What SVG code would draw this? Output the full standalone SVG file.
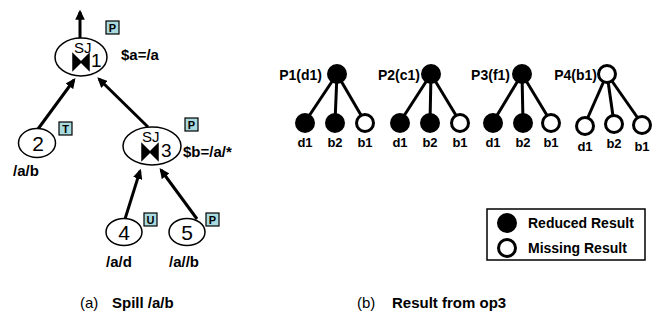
<svg xmlns="http://www.w3.org/2000/svg" width="654" height="322" viewBox="0 0 654 322">
  <style>
    .node { fill: #ffffff; stroke: #000000; stroke-width: 1.5; }
    .edge { fill: none; stroke: #000000; stroke-width: 3; }
    .tag { fill: #a9dadd; stroke: #000000; stroke-width: 1.2; }
    .tagtxt { font-family: "Liberation Sans", Arial, sans-serif; font-size: 11px; font-weight: bold; text-anchor: middle; }
    .num { font-family: "Liberation Sans", Arial, sans-serif; font-size: 21px; text-anchor: middle; }
    .sj { font-family: "Liberation Sans", Arial, sans-serif; font-size: 15px; }
    .lbl { font-family: "Liberation Sans", Arial, sans-serif; font-size: 15px; font-weight: bold; }
    .plbl { font-family: "Liberation Sans", Arial, sans-serif; font-size: 14px; font-weight: bold; text-anchor: end; }
    .leaf { font-family: "Liberation Sans", Arial, sans-serif; font-size: 13px; font-weight: bold; text-anchor: middle; }
    .cap { font-family: "Liberation Sans", Arial, sans-serif; font-size: 15px; }
    .capb { font-family: "Liberation Sans", Arial, sans-serif; font-size: 15px; font-weight: bold; }
    .full { fill: #000000; }
    .empty { fill: #ffffff; stroke: #000000; stroke-width: 3; }
    .branch { stroke: #000000; stroke-width: 3; }
  </style>
  <defs>
    <marker id="arrow" markerWidth="3.4" markerHeight="3.2" refX="2.6" refY="1.6" orient="auto" markerUnits="strokeWidth">
      <path d="M0,0 L3.4,1.6 L0,3.2 Z" fill="#000000"/>
    </marker>
    <!-- structural-join bowtie -->
    <path id="bowtie" d="M-8,-8 L-8,8 L0,0 Z M8,-8 L8,8 L0,0 Z" fill="#000000" stroke="#000000" stroke-width="1.5" stroke-linejoin="miter"/>
  </defs>

  <!-- (a) plan tree -->
  <g id="connectors">
    <line class="edge" x1="80" y1="38" x2="80" y2="12" marker-end="url(#arrow)"/>
    <line class="edge" x1="38" y1="129" x2="74" y2="80" marker-end="url(#arrow)"/>
    <line class="edge" x1="148" y1="127" x2="99" y2="79" marker-end="url(#arrow)"/>
    <line class="edge" x1="125" y1="219" x2="140" y2="171" marker-end="url(#arrow)"/>
    <line class="edge" x1="197" y1="219" x2="161" y2="170" marker-end="url(#arrow)"/>
  </g>

  <g id="op1">
    <ellipse class="node" cx="81" cy="57" rx="26" ry="19"/>
    <text class="sj" x="74" y="53">SJ</text>
    <use href="#bowtie" x="81" y="62"/>
    <text class="sj" x="91" y="67" style="font-size:19px">1</text>
    <rect class="tag" x="106" y="21" width="13" height="13"/>
    <text class="tagtxt" x="112.5" y="31.5">P</text>
    <text class="lbl" x="121" y="60">$a=/a</text>
  </g>

  <g id="op2">
    <ellipse class="node" cx="37" cy="143" rx="18.5" ry="14.5"/>
    <text class="num" x="38" y="151">2</text>
    <rect class="tag" x="59" y="122" width="13" height="13"/>
    <text class="tagtxt" x="65.5" y="132.5">T</text>
    <text class="lbl" x="13" y="176">/a/b</text>
  </g>

  <g id="op3">
    <ellipse class="node" cx="152" cy="146" rx="29" ry="19"/>
    <text class="sj" x="142" y="142">SJ</text>
    <use href="#bowtie" x="150" y="152"/>
    <text class="sj" x="161" y="157" style="font-size:19px">3</text>
    <rect class="tag" x="185" y="118" width="13" height="13"/>
    <text class="tagtxt" x="191.5" y="128.5">P</text>
    <text class="lbl" x="183" y="157">$b=/a/*</text>
  </g>

  <g id="op4">
    <ellipse class="node" cx="124" cy="232" rx="18" ry="13.5"/>
    <text class="num" x="124" y="240">4</text>
    <rect class="tag" x="144" y="213" width="13" height="13"/>
    <text class="tagtxt" x="150.5" y="223.5">U</text>
    <text class="lbl" x="106" y="267">/a/d</text>
  </g>

  <g id="op5">
    <ellipse class="node" cx="187" cy="232" rx="18" ry="13.5"/>
    <text class="num" x="187" y="240">5</text>
    <rect class="tag" x="206" y="213" width="13" height="13"/>
    <text class="tagtxt" x="212.5" y="223.5">P</text>
    <text class="lbl" x="169" y="267">/a//b</text>
  </g>

  <!-- (b) results per partition -->
  <g id="p1">
    <line class="branch" x1="337" y1="74" x2="305" y2="122"/>
    <line class="branch" x1="337" y1="74" x2="335" y2="122"/>
    <line class="branch" x1="337" y1="74" x2="365" y2="122"/>
    <circle class="full" cx="337" cy="74" r="10"/>
    <text class="plbl" x="322" y="80">P1(d1)</text>
    <circle class="full" cx="305" cy="123" r="10"/>
    <circle class="full" cx="335" cy="123" r="10"/>
    <circle class="empty" cx="365" cy="123" r="8.5"/>
    <text class="leaf" x="305" y="147">d1</text>
    <text class="leaf" x="335" y="147">b2</text>
    <text class="leaf" x="365" y="147">b1</text>
  </g>

  <g id="p2">
    <line class="branch" x1="431" y1="74" x2="400" y2="122"/>
    <line class="branch" x1="431" y1="74" x2="430" y2="122"/>
    <line class="branch" x1="431" y1="74" x2="460" y2="122"/>
    <circle class="full" cx="431" cy="74" r="10"/>
    <text class="plbl" x="420" y="80">P2(c1)</text>
    <circle class="full" cx="400" cy="123" r="10"/>
    <circle class="full" cx="430" cy="123" r="10"/>
    <circle class="empty" cx="460" cy="123" r="8.5"/>
    <text class="leaf" x="400" y="147">d1</text>
    <text class="leaf" x="430" y="147">b2</text>
    <text class="leaf" x="460" y="147">b1</text>
  </g>

  <g id="p3">
    <line class="branch" x1="522" y1="74" x2="493" y2="122"/>
    <line class="branch" x1="522" y1="74" x2="523" y2="122"/>
    <line class="branch" x1="522" y1="74" x2="551" y2="122"/>
    <circle class="full" cx="522" cy="74" r="10"/>
    <text class="plbl" x="510" y="80">P3(f1)</text>
    <circle class="full" cx="493" cy="123" r="10"/>
    <circle class="full" cx="523" cy="123" r="10"/>
    <circle class="empty" cx="551" cy="123" r="8.5"/>
    <text class="leaf" x="493" y="147">d1</text>
    <text class="leaf" x="523" y="147">b2</text>
    <text class="leaf" x="551" y="147">b1</text>
  </g>

  <g id="p4">
    <line class="branch" x1="607" y1="74" x2="585" y2="124"/>
    <line class="branch" x1="607" y1="74" x2="614" y2="123"/>
    <line class="branch" x1="607" y1="74" x2="642" y2="124"/>
    <circle class="empty" cx="607" cy="74" r="8.5"/>
    <text class="plbl" x="597" y="80">P4(b1)</text>
    <circle class="empty" cx="585" cy="126" r="8.5"/>
    <circle class="empty" cx="614" cy="124" r="8.5"/>
    <circle class="empty" cx="642" cy="125" r="8.5"/>
    <text class="leaf" x="585" y="151">d1</text>
    <text class="leaf" x="614" y="148">b2</text>
    <text class="leaf" x="642" y="151">b1</text>
  </g>

  <g id="legend">
    <rect x="487" y="209" width="158" height="51" fill="#ffffff" stroke="#000000" stroke-width="1.5"/>
    <circle class="full" cx="507" cy="223" r="10"/>
    <text class="lbl" x="528" y="228" style="font-size:14px">Reduced Result</text>
    <circle class="empty" cx="507" cy="248" r="8.5"/>
    <text class="lbl" x="528" y="253" style="font-size:14px">Missing Result</text>
  </g>

  <!-- captions -->
  <g id="captions">
    <text class="cap" x="80" y="308">(a)</text>
    <text class="capb" x="112" y="308">Spill /a/b</text>
    <text class="cap" x="357" y="308">(b)</text>
    <text class="capb" x="392" y="308">Result from op3</text>
  </g>
</svg>
